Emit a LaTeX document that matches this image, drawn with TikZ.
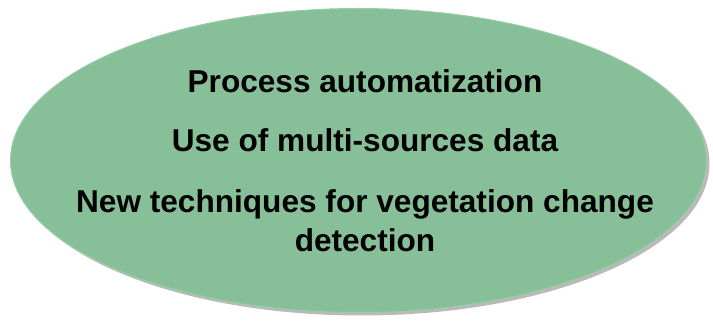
\documentclass[tikz,border=0pt]{standalone}
\usepackage{fontspec}
\setmainfont{Liberation Sans}
\usepackage{tikz}
\usetikzlibrary{shapes.geometric, shadows, positioning}

\definecolor{leafgreen}{RGB}{135,192,152}
\definecolor{leafrim}{RGB}{152,205,167}

\tikzset{
  oval/.style={ellipse, fill=leafgreen, draw=leafrim, line width=1pt,
    inner sep=0pt, outer sep=0pt,
    drop shadow={shadow xshift=3pt, shadow yshift=-3pt, fill=black!50, opacity=0.55}},
  goal/.style={font=\fontsize{31.6}{38.5}\selectfont\bfseries, align=center, inner sep=0pt}
}

\begin{document}
\begin{tikzpicture}[x=1pt, y=1pt]
    \useasboundingbox (0,0) rectangle (713,321);
    \node (oval) [oval, minimum width=696pt, minimum height=304pt] at (358.5,160.5) {};
    \node (l1) [goal, anchor=base] at (365,228) {Process automatization};
    \node (l2) [goal, below=59pt of l1.base, anchor=base] {Use of multi-sources data};
    % base of a two-line node is its last line
    \node (l3) [goal, below=99.5pt of l2.base, anchor=base] {New techniques for vegetation change\\detection};
  \end{tikzpicture}
\end{document}
